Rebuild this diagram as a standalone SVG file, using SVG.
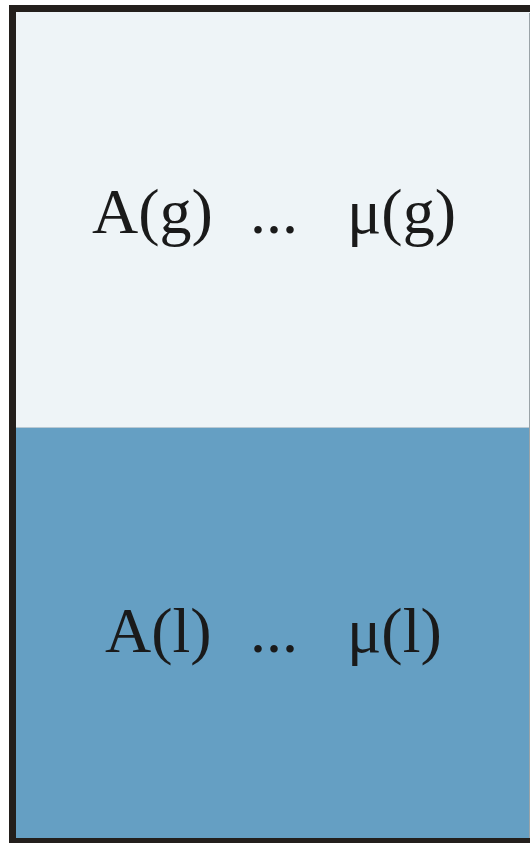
<svg xmlns="http://www.w3.org/2000/svg" width="530" height="843" viewBox="0 0 530 843">
<style>
.t{font-family:"Liberation Serif","Times New Roman",serif;font-size:64px;fill:#1a1a1a}
</style>
<rect width="530" height="843" fill="#ffffff"/>
<g id="gas">
<rect x="12.5" y="8.5" width="530" height="419" fill="#eef4f7"/>
<text class="t" x="92" y="233">A(g)</text>
<text class="t" x="250" y="233">...</text>
<text class="t" x="347" y="233">μ(g)</text>
</g>
<g id="liquid">
<rect x="12.5" y="427" width="530" height="414" fill="#659fc3"/>
<text class="t" x="105" y="652">A(l)</text>
<text class="t" x="250" y="652">...</text>
<text class="t" x="347" y="652">μ(l)</text>
</g>
<line x1="16" y1="427.5" x2="530" y2="427.5" stroke="#b9c9d3" stroke-width="1"/>
<line x1="529.5" y1="13" x2="529.5" y2="841" stroke="#9aa3a8" stroke-width="1"/>
<path d="M530 8.5 H12.5 V841.5 H530" fill="none" stroke="#231f1c" stroke-width="7"/>
</svg>
